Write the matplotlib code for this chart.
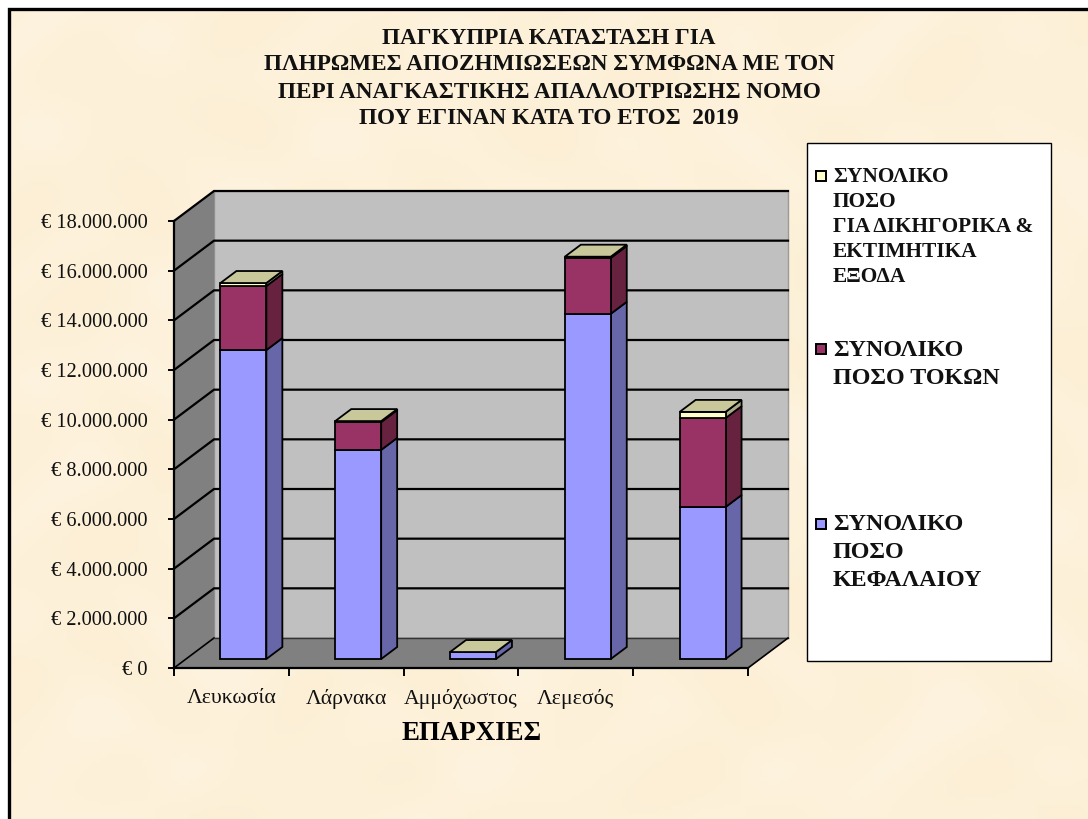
import numpy as np
import matplotlib
matplotlib.use("Agg")
import matplotlib.pyplot as plt
from matplotlib.patches import Polygon, Rectangle

plt.rcParams['font.family'] = ['Liberation Serif', 'DejaVu Serif']

# ---- data -------------------------------------------------------------
provinces = ['Λευκωσία', 'Λάρνακα', 'Αμμόχωστος', 'Λεμεσός', '']
capital = [12440000, 8420000, 280000, 13900000, 6120000]
interest = [2580000, 1120000, 0, 2250000, 3580000]
legal_fees = [120000, 40000, 0, 50000, 250000]
y_ticks = list(range(0, 18000001, 2000000))

title_lines = ['ΠΑΓΚΥΠΡΙΑ ΚΑΤΑΣΤΑΣΗ ΓΙΑ',
               'ΠΛΗΡΩΜΕΣ ΑΠΟΖΗΜΙΩΣΕΩΝ ΣΥΜΦΩΝΑ ΜΕ ΤΟΝ',
               'ΠΕΡΙ ΑΝΑΓΚΑΣΤΙΚΗΣ ΑΠΑΛΛΟΤΡΙΩΣΗΣ ΝΟΜΟ',
               'ΠΟΥ ΕΓΙΝΑΝ ΚΑΤΑ ΤΟ ΕΤΟΣ  2019']
x_title = 'ΕΠΑΡΧΙΕΣ'
legend_fees = ['ΣΥΝΟΛΙΚΟ', 'ΠΟΣΟ', 'ΓΙΑ ΔΙΚΗΓΟΡΙΚΑ &', 'ΕΚΤΙΜΗΤΙΚΑ', 'ΕΞΟΔΑ']
legend_interest = ['ΣΥΝΟΛΙΚΟ', 'ΠΟΣΟ ΤΟΚΩΝ']
legend_capital = ['ΣΥΝΟΛΙΚΟ', 'ΠΟΣΟ', 'ΚΕΦΑΛΑΙΟΥ']

# ---- styles -----------------------------------------------------------
W, H = 1088, 819
BLUE, BLUE_S = '#9999FF', '#6666A8'
PURP, PURP_S = '#993366', '#66223F'
CREAM, CREAM_S, CREAM_T = '#FFFFCC', '#AAAA88', '#C8C89A'
WALL, DARK = '#C0C0C0', '#808080'

fig = plt.figure(figsize=(W / 100, H / 100), dpi=100, facecolor='white')

# page layer in pixel coordinates
page = fig.add_axes([0, 0, 1, 1], zorder=0)
page.set_xlim(0, W)
page.set_ylim(H, 0)
page.axis('off')

# soft parchment mottling of the slide background (decoration only)
gx, gy = np.meshgrid(np.arange(0, W, 4), np.arange(0, H, 4))
mottle = (np.sin(gx / 23 + np.sin(gy / 41) * 2) + np.sin(gy / 19 + np.sin(gx / 47) * 2)
          + np.sin((gx + gy) / 61)) / 3
base = np.array([253, 241, 218], float)
tex = base[None, None, :] + mottle[..., None] * np.array([0.8, 2, 5])
page.imshow(np.clip(tex, 0, 255).astype(np.uint8), extent=(10, W, H, 9), aspect='auto',
            interpolation='bilinear', zorder=0)
page.set_xlim(0, W)
page.set_ylim(H, 0)
page.plot([9, 9, W], [H, 8.5, 8.5], color='black', lw=2.4, solid_joinstyle='miter', zorder=1)

# chart layer: front plane of the 3D box
x0, x1, y0, y1 = 174, 748, 668, 221
ax = fig.add_axes([x0 / W, 1 - y0 / H, (x1 - x0) / W, (y0 - y1) / H], zorder=1)
ax.patch.set_alpha(0)
n = len(provinces)
ymax = y_ticks[-1]
ax.set_xlim(0, n)
ax.set_ylim(0, ymax)
DX = 40 / ((x1 - x0) / n)          # depth shift per unit depth, category units
DY = 30 / ((y0 - y1) / ymax)       # depth shift per unit depth, value units


def P(x, y, d=0.0):
    return (x + d * DX, y + d * DY)


def poly(pts, fc, ec='black', lw=1.3, z=2):
    ax.add_patch(Polygon([P(*p) for p in pts], closed=True, fc=fc, ec=ec, lw=lw,
                         joinstyle='miter', clip_on=False, zorder=z))


# walls and floor
poly([(0, 0, 1), (n, 0, 1), (n, ymax, 1), (0, ymax, 1)], WALL, ec='#9a9a9a', lw=1)
poly([(0, 0, 0), (0, 0, 1), (0, ymax, 1), (0, ymax, 0)], DARK, ec='#808080', lw=0.5)
poly([(0, 0, 0), (n, 0, 0), (n, 0, 1), (0, 0, 1)], DARK, ec='#808080', lw=0.5)
for v in y_ticks:
    pts = [P(0, v, 0), P(0, v, 1), P(n, v, 1)]
    if v == 0:
        ax.plot([pts[0][0], pts[1][0]], [pts[0][1], pts[1][1]], color='black', lw=1.2,
                clip_on=False, zorder=2.5)
        ax.plot([pts[1][0], pts[2][0]], [pts[1][1], pts[2][1]], color='#333333', lw=1,
                clip_on=False, zorder=2.5)
        ax.plot(*zip(P(n, 0, 0), P(n, 0, 1)), color='black', lw=1.2, clip_on=False, zorder=2.5)
    else:
        ax.plot(*zip(*pts), color='black', lw=1.6, clip_on=False, zorder=2.5,
                solid_joinstyle='miter')

# stacked 3D bars
BW = 0.4
D0, D1 = 0.3, 0.7
for i in range(n):
    l, r = i + 0.5 - BW / 2, i + 0.5 + BW / 2
    base = 0
    for vals, face, side in ((capital, BLUE, BLUE_S), (interest, PURP, PURP_S),
                             (legal_fees, CREAM, CREAM_S)):
        v = vals[i]
        if v <= 0:
            continue
        poly([(r, base, D0), (r, base, D1), (r, base + v, D1), (r, base + v, D0)], side, z=3)
        poly([(l, base, D0), (r, base, D0), (r, base + v, D0), (l, base + v, D0)], face, z=4)
        base += v
    poly([(l, base, D0), (r, base, D0), (r, base, D1), (l, base, D1)], CREAM_T, z=4)

# axes, ticks, labels
for s in ('top', 'right'):
    ax.spines[s].set_visible(False)
for s in ('left', 'bottom'):
    ax.spines[s].set_linewidth(1.6)
    ax.spines[s].set_zorder(6)
ax.set_yticks(y_ticks)
ax.set_yticklabels(['€ ' + f'{v:,}'.replace(',', '.') for v in y_ticks])
ax.tick_params(axis='y', length=4, width=1.4, pad=15, labelsize=14.7, labelcolor='#111111')
ax.set_xticks(range(n + 1))
ax.set_xticklabels([])
ax.set_xticks([i + 0.5 for i in range(n)], labels=provinces, minor=True)
ax.tick_params(axis='x', which='major', length=6, width=1.4)
ax.tick_params(axis='x', which='minor', length=0, pad=15, labelsize=15.7, labelcolor='#111111')

# title and axis title
for line, ypos in zip(title_lines, [39, 65, 92, 119]):
    page.text(549, ypos, line, ha='center', va='center', fontsize=16.7, fontweight='bold',
              color='#111111')
fig.text(472 / W, 1 - 733 / H, x_title, ha='center', va='center', fontsize=19.4,
         fontweight='bold', color='black', zorder=5)

# legend box
page.add_patch(Rectangle((806.5, 142.5), 244, 518, fc='white', ec='black', lw=1, zorder=2))
for lines, ys, fs, col, sy in (
        (legend_fees, [177, 202, 227, 252, 277], 15.4, CREAM, 170),
        (legend_interest, [350, 378], 17.3, PURP, 343),
        (legend_capital, [525, 552, 580], 17.3, BLUE, 518)):
    page.add_patch(Rectangle((815.5, sy + 0.5), 10.5, 10.5, fc=col, ec='black', lw=1.4, zorder=3))
    for t, yy in zip(lines, ys):
        page.text(833, yy, t, ha='left', va='center', fontsize=fs, fontweight='bold',
                  color='#111111', zorder=3)

fig.savefig('out.png', dpi=100, facecolor='white')
